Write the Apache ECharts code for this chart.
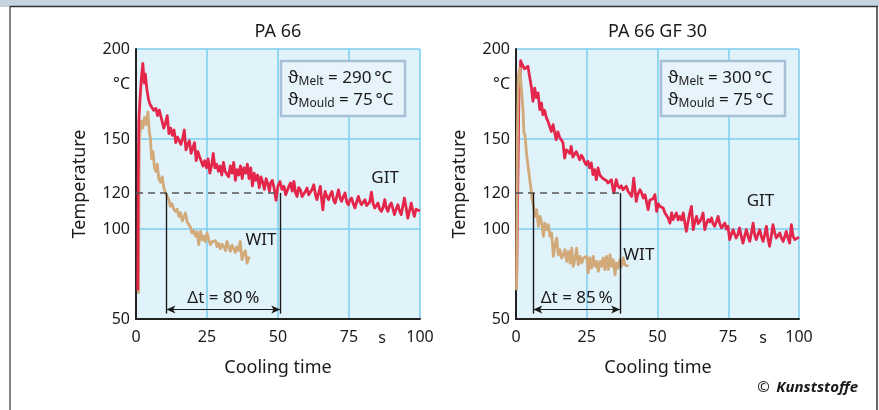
<!DOCTYPE html>
<html><head><meta charset="utf-8">
<script src="https://cdn.jsdelivr.net/npm/echarts@6/dist/echarts.min.js"></script>
<style>html,body{margin:0;padding:0;background:#fff}#c{width:879px;height:410px}</style>
</head><body><div id="c"></div>
<script>
// ---------- data ----------
const panelTitles = ['PA 66', 'PA 66 GF 30'];
const xTickValues = [0, 25, 50, 75, 100];
const yTickValues = [50, 100, 120, 150, 200];
const meltTemps = [290, 300];
const mouldTemps = [75, 75];
const dtPercent = [80, 85];
const levelTemp = 120;
const pa66_dtTimes = [10.7, 50.8];
const gf30_dtTimes = [6.1, 36.8];

const pa66_GIT = [[0.6,66],[0.7,95],[0.8,130],[1.0,160],[1.4,172],[1.9,184],[2.4,192],[2.9,181],[3.3,186],[3.8,178],[4.4,172],[5.0,169],[5.6,170],[6.2,166],[7,167],[7.6,163],[8.2,166],[9,161],[9.8,156],[10.4,159],[11,163],[11.6,153],[12.2,156],[12.8,152],[13.4,155],[14,148],[14.6,151],[15.2,152],[15.8,147],[16.4,150],[17,155],[17.6,144],[18.2,147],[18.8,149],[19.4,142],[20,145],[20.6,148],[21.2,138],[21.8,143],[22.4,140],[23,141],[23.6,135],[24.2,138],[24.8,134],[25.4,139],[26,131],[26.6,135],[27.2,142],[27.8,134],[28.4,136],[29,132],[29.6,135],[30.2,130],[30.8,137],[31.4,132],[32,133],[32.6,129],[33.2,135],[33.8,131],[34.4,137],[35,127],[35.6,133],[36.2,130],[36.8,135],[37.4,128],[38,134],[38.6,131],[39.2,136],[39.8,128],[40.4,134],[41,124],[41.6,131],[42.2,127],[42.8,130],[43.4,123],[44,129],[44.6,126],[45.2,122],[45.8,128],[46.4,125],[47,121],[47.4,125.6],[48,127],[48.6,123],[49.3,116],[50,124],[50.7,126.4],[51.4,122],[52.1,123.7],[52.7,119],[53.3,120],[53.9,124],[54.4,125.6],[55,121],[55.6,126.5],[56.2,120],[56.7,118.1],[57.3,123],[57.9,121.8],[58.5,118],[59.1,119],[59.7,121],[60.2,122.8],[60.8,119],[61.4,120],[62,122],[62.6,124.6],[63.2,119],[63.7,116.3],[64.3,120],[64.9,123.7],[65.4,116],[65.8,110.7],[66.2,117],[66.6,120.9],[67.2,118],[67.8,116.3],[68.4,119],[69,120.9],[69.6,116],[70.1,114.4],[70.7,118],[71.3,121.8],[71.9,117],[72.4,115.4],[73,118],[73.6,120],[74.2,115],[74.8,113.5],[75.3,116],[75.9,117.2],[76.5,114],[77.1,111.7],[77.7,115],[78.3,118.1],[78.9,115],[79.4,113.5],[80,114],[80.6,116.3],[81.2,113],[81.7,112.6],[82.3,115],[82.9,120.5],[83.5,114],[84.1,111.7],[84.6,112],[85.2,114.4],[85.8,111],[86.4,109.8],[87,112],[87.6,116.3],[88.1,112],[88.7,109.8],[89.3,113],[89.9,114.4],[90.5,111],[91,108],[91.6,111],[92.2,113.5],[92.8,110],[93.4,108],[94,113],[94.5,117.2],[95.1,112],[95.7,106],[96.3,110],[96.9,114.4],[97.5,110],[98,107],[98.6,111],[99.2,110.7],[100,110]];

const pa66_WIT = [[0.9,64],[1.0,110],[1.2,150],[1.8,160],[2.4,156],[3.0,162],[3.6,158],[4.2,165],[4.7,154],[5.1,150],[5.5,139],[6.0,143],[6.5,134],[7.0,132],[7.5,136],[8.0,128],[8.6,126],[9.2,129],[9.8,123],[10.4,120],[11,121],[11.6,116],[12.1,112.6],[12.7,114],[13.3,111],[13.9,109.8],[14.5,111],[15.1,107],[15.7,109],[16.3,104.5],[16.8,105.2],[17.4,108.9],[18,104],[18.6,102.4],[19.2,101],[19.7,97.8],[20.3,99],[20.9,96],[21.5,98.5],[22.1,91.3],[22.7,98.7],[23.3,94],[23.9,96],[24.4,93],[25,97.8],[25.6,94],[26.2,91.3],[26.8,93],[27.4,92],[28,93.5],[28.5,90.3],[29.1,92],[29.7,89],[30.3,91.5],[31,90],[31.5,88],[32,93.1],[32.6,90],[33.2,87.6],[33.8,91],[34.4,89],[35,87],[35.5,90],[36.1,88],[36.7,93.1],[37.3,83],[37.9,86],[38.5,88],[39.1,81.1],[39.6,84],[40.2,83.5]];

const gf30_GIT = [[0.2,68],[0.6,120],[1.0,172],[1.65,193.5],[2,192],[2.5,191.3],[3,189],[3.6,188.5],[4.2,190.4],[4.8,184.8],[5.4,179.2],[6,170.9],[6.6,178.3],[7.2,173],[7.8,175.6],[8.4,166.3],[9,170],[9.5,163.5],[10.1,166],[10.7,162],[11.3,159.8],[11.9,159],[12.5,154.2],[13.1,158],[13.7,157],[14.2,149.6],[14.8,154],[15.4,151],[16,149.6],[16.6,148],[17.2,139.4],[17.8,144],[18.4,145],[19,142],[19.5,145.9],[20.1,140],[20.7,141.5],[21.3,143],[21.9,143.1],[22.5,138.5],[23.1,141],[23.7,139.4],[24.3,137],[24.8,135.7],[25.4,137.6],[26,134],[26.6,136.7],[27.2,130.2],[27.8,133],[28.4,127.4],[29,133.9],[29.6,130],[30.1,130.2],[30.7,128],[31.3,127.4],[31.9,127],[32.5,125.6],[33.1,126],[33.7,127.4],[34.3,122],[34.6,120],[35.4,127.4],[36,124],[36.6,122.8],[37.2,124],[37.8,121.8],[38.4,122],[39,123.7],[39.6,121],[40.1,120.9],[40.9,118.1],[41.6,128.3],[42.5,115.3],[43,119],[43.8,121.8],[44.4,120],[45,117.2],[45.6,119],[46.1,119.1],[46.7,110.7],[47.3,116],[47.9,115.3],[48.5,117],[49.1,119.1],[49.7,109.8],[50.3,114],[50.8,112.6],[51.4,113],[52,111.7],[52.6,109],[53.2,108.9],[53.8,106],[54.4,103.3],[55,108.9],[55.5,105.2],[56.1,106],[56.7,108.9],[57.3,105],[57.9,107],[58.5,105],[59.1,108.9],[59.6,104],[60.2,98.7],[60.8,104],[61.4,108.9],[62,112.6],[62.6,99.6],[63.2,104],[63.8,107],[64.4,103],[65,104.2],[65.5,106],[66.1,108.9],[66.7,99.6],[67.3,103],[67.9,105.2],[68.5,104],[69.1,106.1],[69.6,103],[70.2,101.5],[70.8,104],[71.4,107],[72,103],[72.6,100.6],[73.2,102],[73.8,103.3],[74.3,100],[74.9,101.5],[75.5,94.1],[76.1,97],[76.7,99.6],[77.3,97],[77.8,95],[78.4,97],[79,100.6],[79.6,96],[80.2,92.2],[80.8,96],[81.4,99.6],[82,96],[82.6,93.1],[83.2,98],[83.8,103.3],[84.3,97],[84.9,94.1],[85.5,97],[86.1,99.6],[86.7,96],[87.3,93.1],[87.9,97],[88.5,101.5],[89,95],[89.6,90.4],[90.2,96],[90.8,102.4],[91.4,98],[92,95],[92.6,96],[93.2,97.8],[93.8,95],[94.4,93.1],[95,96],[95.5,98.7],[96.1,95],[96.7,92.2],[97.3,102.4],[97.9,96],[98.5,94.1],[99.2,95],[100,95.5]];

const gf30_WIT = [[0.2,66],[0.5,150],[0.8,184],[1.3,189.4],[1.9,178.3],[2.5,165.4],[2.8,153.3],[3.2,152],[3.65,143.1],[4.2,135.7],[4.8,128.3],[5.4,120.9],[5.7,116.3],[6.1,113.5],[6.7,107],[7.3,110.7],[7.9,101.4],[8.5,107],[9.1,103.3],[9.7,95.9],[10.2,103.3],[10.8,99.6],[11.4,102.4],[12,95.9],[12.6,97.8],[13.2,84.8],[13.8,91.3],[14.4,95],[14.9,85.7],[15.5,88.5],[16.1,83.9],[16.7,85.7],[17.3,88.5],[17.9,82],[18.5,87.6],[19.1,81.1],[19.7,89.4],[20.2,79.2],[20.8,82.9],[21.4,89.4],[22,80.2],[22.6,84.8],[23.2,81.1],[23.8,83.9],[24.4,82.9],[25,84.8],[25.5,75.6],[26.1,83.9],[26.7,78.3],[27.3,84.8],[27.9,79.2],[28.5,82],[29.1,76.5],[29.7,82],[30.2,79.2],[30.8,83.9],[31.4,77.4],[32,84.8],[32.6,77.4],[33.2,85.7],[33.8,79.2],[34.4,82.9],[35,74.6],[35.5,81.1],[36.1,78.3],[36.7,82.9],[37.3,79.2],[37.9,83.9],[38.5,80.2],[39.7,79.2]];

// label anchor positions (data space)
const gitLabelPos = [[87.7, 128.5], [86.4, 115.7]];
const witLabelPos = [[44, 94], [43.4, 85.2]];

// ---------- chart ----------
const FONT = '"Noto Sans", "Open Sans", sans-serif';
const TXT = '#1a1a1a';
const RED = '#e3264a';
const TAN = '#d2aa7a';
const GRIDC = '#7ccdef';
const BG = '#e0f2fa';

const gridsPos = [
  {left: 136, top: 49, width: 284, height: 270},
  {left: 516, top: 49, width: 283, height: 270}
];

const chart = echarts.init(document.getElementById('c'), null, {renderer: 'canvas'});

function xAx(i) {
  return {
    type: 'value', gridIndex: i, min: 0, max: 100, interval: 25,
    axisLine: {show: true, onZero: false, lineStyle: {color: '#222', width: 2}},
    axisTick: {show: false},
    axisLabel: {color: TXT, fontSize: 16, fontFamily: FONT, margin: 10, customValues: xTickValues},
    splitLine: {show: true, lineStyle: {color: GRIDC, width: 1.5}}
  };
}
function yAx(i) {
  return {
    type: 'value', gridIndex: i, min: 50, max: 200, interval: 50,
    axisLine: {show: true, onZero: false, lineStyle: {color: '#222', width: 2}},
    axisTick: {show: false},
    axisLabel: {color: TXT, fontSize: 16, fontFamily: FONT, margin: 6, customValues: yTickValues},
    splitLine: {show: true, lineStyle: {color: GRIDC, width: 1.5}}
  };
}

function annotations(dt, pct) {
  const black = {color: '#1a1a1a', width: 1.4, type: 'solid'};
  return {
    silent: true, symbol: ['none', 'none'], animation: false,
    label: {show: false},
    data: [
      [{coord: [0, levelTemp], lineStyle: {color: '#555', width: 1.5, type: [7, 5]}}, {coord: [dt[1], levelTemp]}],
      [{coord: [dt[0], levelTemp], lineStyle: black}, {coord: [dt[0], 53]}],
      [{coord: [dt[1], levelTemp], lineStyle: black}, {coord: [dt[1], 53]}],
      [{coord: [dt[0], 55.3], symbol: 'arrow', symbolSize: [6, 9], lineStyle: {color: '#1a1a1a', width: 1, type: 'solid'}},
       {coord: [dt[1], 55.3], symbol: 'arrow', symbolSize: [6, 9]}]
    ]
  };
}

function textPoints(i, dt, pct) {
  const lbl = (fmt, size) => ({show: true, position: 'inside', formatter: fmt, color: TXT, fontSize: size, fontFamily: FONT});
  return {
    silent: true, animation: false, symbol: 'circle', symbolSize: 1,
    itemStyle: {color: 'rgba(0,0,0,0)'},
    data: [
      {coord: gitLabelPos[i], label: lbl('GIT', 17)},
      {coord: witLabelPos[i], label: lbl('WIT', 17)},
      {coord: [(dt[0] + dt[1]) / 2, 61.8], label: lbl('\u0394t = ' + pct + '\u2009%', 17)}
    ]
  };
}

function line(i, data, color, z, extra) {
  return Object.assign({
    type: 'line', xAxisIndex: i, yAxisIndex: i, data: data, symbol: 'none',
    lineStyle: {color: color, width: 2.8, join: 'round'}, z: z, animation: false, silent: true
  }, extra || {});
}

const series = [
  line(0, pa66_WIT, TAN, 3),
  line(0, pa66_GIT, RED, 4, {markLine: annotations(pa66_dtTimes, dtPercent[0]), markPoint: textPoints(0, pa66_dtTimes, dtPercent[0])}),
  line(1, gf30_GIT, RED, 3, {markLine: annotations(gf30_dtTimes, dtPercent[1]), markPoint: textPoints(1, gf30_dtTimes, dtPercent[1])}),
  line(1, gf30_WIT, TAN, 4)
];

const graphic = [
  {type: 'rect', shape: {x: 0, y: 0, width: 879, height: 7}, style: {fill: '#c6d4df'}, silent: true, z: 0},
  {type: 'line', shape: {x1: 10, y1: 6.5, x2: 878, y2: 6.5}, style: {stroke: '#333', lineWidth: 1.5}, z: 1},
  {type: 'line', shape: {x1: 10, y1: 6, x2: 10, y2: 410}, style: {stroke: '#333', lineWidth: 1.2}, z: 1},
  {type: 'line', shape: {x1: 877, y1: 6, x2: 877, y2: 410}, style: {stroke: '#333', lineWidth: 1.5}, z: 1},
];

const unitX = [382, 763];
const nameCx = [278, 658];
for (let i = 0; i < 2; i++) {
  const g = gridsPos[i];
  const cx = g.left + g.width / 2;
  graphic.push({type: 'text', left: null, x: cx, y: 32, style: {text: panelTitles[i], fill: TXT, font: '18px ' + FONT, align: 'center', verticalAlign: 'middle'}});
  graphic.push({type: 'text', x: g.left - 6, y: 84, style: {text: '\u00b0C', fill: TXT, font: '16px ' + FONT, align: 'right', verticalAlign: 'middle'}});
  graphic.push({type: 'text', x: unitX[i], y: 338, style: {text: 's', fill: TXT, font: '16px ' + FONT, align: 'center', verticalAlign: 'middle'}});
  graphic.push({type: 'text', x: nameCx[i], y: 368, style: {text: 'Cooling time', fill: TXT, font: '18px ' + FONT, align: 'center', verticalAlign: 'middle'}});
  graphic.push({type: 'text', x: g.left - 56, y: 184, rotation: Math.PI / 2, style: {text: 'Temperature', fill: TXT, font: '18px ' + FONT, align: 'center', verticalAlign: 'middle'}});
  const bx = g.left + 145;
  graphic.push({type: 'rect', shape: {x: bx, y: 61, width: 124, height: 55}, style: {fill: '#e8f4fb', stroke: '#a6c0d8', lineWidth: 2.5}, z: 10});
  graphic.push({type: 'text', x: bx + 7, y: 78, z: 11, style: {
    rich: {a: {fontSize: 17, fontFamily: FONT, fill: TXT}, s: {fontSize: 12, fontFamily: FONT, fill: TXT, verticalAlign: 'bottom', padding: [8, 0, 0, 0]}},
    text: '{a|\u03d1}{s|Melt}{a| = ' + meltTemps[i] + '\u2009\u00b0C}', verticalAlign: 'middle'}});
  graphic.push({type: 'text', x: bx + 7, y: 100, z: 11, style: {
    rich: {a: {fontSize: 17, fontFamily: FONT, fill: TXT}, s: {fontSize: 12, fontFamily: FONT, fill: TXT, verticalAlign: 'bottom', padding: [8, 0, 0, 0]}},
    text: '{a|\u03d1}{s|Mould}{a| = ' + mouldTemps[i] + '\u2009\u00b0C}', verticalAlign: 'middle'}});
}
graphic.push({type: 'text', x: 858, y: 388, style: {
  rich: {c: {fontSize: 15, fontFamily: FONT, fill: TXT}, k: {fontSize: 15, fontFamily: FONT, fontWeight: 'bold', fontStyle: 'italic', fill: TXT}},
  text: '{c|\u00a9}  {k|Kunststoffe}', align: 'right', verticalAlign: 'middle'}});

chart.setOption({
  animation: false,
  backgroundColor: '#ffffff',
  textStyle: {fontFamily: FONT},
  grid: gridsPos.map(g => Object.assign({show: true, backgroundColor: BG, borderWidth: 0, containLabel: false}, g)),
  xAxis: [xAx(0), xAx(1)],
  yAxis: [yAx(0), yAx(1)],
  series: series,
  graphic: graphic
});
</script></body></html>
